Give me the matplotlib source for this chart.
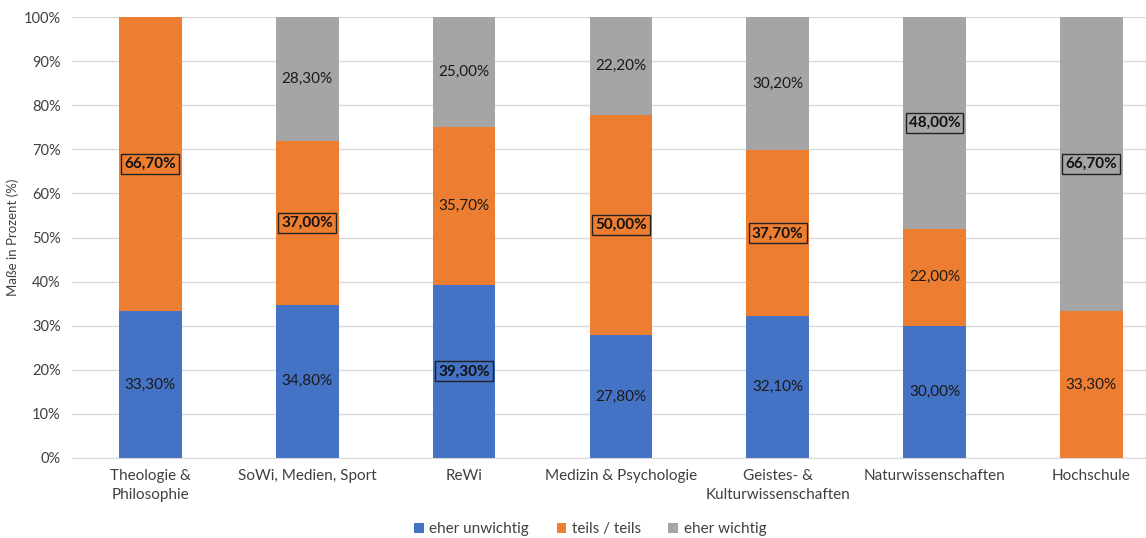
import numpy as np
import matplotlib.pyplot as plt
from matplotlib.ticker import PercentFormatter

plt.rcParams['font.family'] = ['Lato', 'DejaVu Sans']

# Fächergruppen und Anteile (%)
faecher = ["Theologie &\nPhilosophie", "SoWi, Medien, Sport", "ReWi",
           "Medizin & Psychologie", "Geistes- &\nKulturwissenschaften",
           "Naturwissenschaften", "Hochschule"]
eher_unwichtig = [33.3, 34.8, 39.3, 27.8, 32.1, 30.0, 0.0]
teils_teils = [66.7, 37.0, 35.7, 50.0, 37.7, 22.0, 33.3]
eher_wichtig = [0.0, 28.3, 25.0, 22.2, 30.2, 48.0, 66.7]

serien = ["eher unwichtig", "teils / teils", "eher wichtig"]
farben = ["#4472C4", "#ED7D31", "#A5A5A5"]

fig = plt.figure(figsize=(11.46, 5.38), dpi=100)
ax = fig.add_axes([0.0628, 0.1487, 0.958, 0.8197])

x = np.arange(len(faecher))
werte = np.array([eher_unwichtig, teils_teils, eher_wichtig])
bottom = np.zeros(len(faecher))
hoechster = werte.argmax(axis=0)

for i, (name, farbe) in enumerate(zip(serien, farben)):
    ax.bar(x, werte[i], 0.4, bottom=bottom, color=farbe, label=name, zorder=2)
    for j, v in enumerate(werte[i]):
        if v == 0:
            continue
        text = f"{v:.2f}%".replace(".", ",")
        y = bottom[j] + v / 2
        if hoechster[j] == i:
            ax.text(x[j], y, text, ha="center", va="center", fontsize=11,
                    fontweight="bold", color="#111111", zorder=3,
                    bbox=dict(boxstyle="square,pad=0.2", fc=farbe, ec="#222222", lw=1))
        else:
            ax.text(x[j], y, text, ha="center", va="center", fontsize=11,
                    color="#1a1a1a", zorder=3)
    bottom += werte[i]

ax.set_xlim(-0.5, len(faecher) - 0.5)
ax.set_ylim(0, 100)
ax.set_yticks(np.arange(0, 101, 10))
ax.yaxis.set_major_formatter(PercentFormatter(decimals=0))
ax.grid(axis="y", color="#D9D9D9", lw=1, zorder=0)
for s in ["top", "right", "left"]:
    ax.spines[s].set_visible(False)
ax.spines["bottom"].set_color("#D9D9D9")
ax.tick_params(axis="both", length=0, colors="#404040")
ax.tick_params(axis="y", pad=8, labelsize=10.5)
ax.tick_params(axis="x", pad=8, labelsize=11)
ax.set_xticks(x)
ax.set_xticklabels(faecher, linespacing=1.45)
ax.set_ylabel("Maße in Prozent (%)", fontsize=9.5, color="#404040", labelpad=0)
ax.yaxis.set_label_coords(-0.048, 0.5)

fig.legend(loc="lower center", bbox_to_anchor=(0.515, -0.022), ncol=3, frameon=False,
           fontsize=11, handlelength=0.65, handleheight=0.65, handletextpad=0.35,
           columnspacing=1.8, labelcolor="#404040")

fig.savefig("out.png", dpi=100)
